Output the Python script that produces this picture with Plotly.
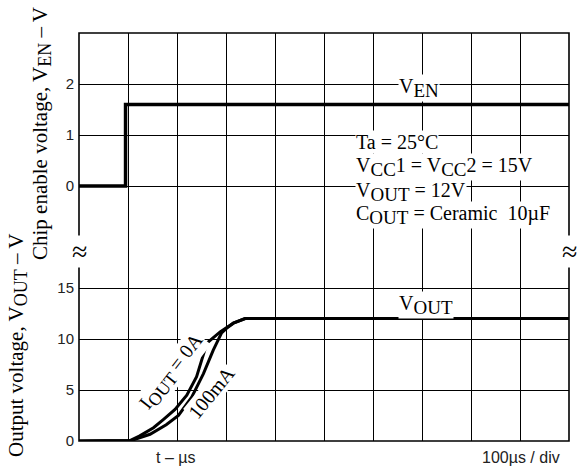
import plotly.graph_objects as go
from plotly.subplots import make_subplots

# ---- data ----
t_en = [0, 95, 95, 1000]
v_en = [0, 0, 1.6, 1.6]

t_out_0a = [0, 104, 124, 152, 172, 196, 220, 240, 261, 288, 315, 339, 1000]
v_out_0a = [0, 0.05, 0.5, 1.3, 2.1, 3.1, 4.5, 6.3, 9.6, 10.7, 11.55, 12.0, 12.0]

t_out_100 = [0, 107, 145, 178, 203, 230, 254, 274, 291, 301, 315, 339, 1000]
v_out_100 = [0, 0.05, 0.66, 1.6, 2.5, 4.3, 6.6, 8.9, 10.6, 11.05, 11.55, 12.0, 12.0]

en_ticks = [-1, 0, 1, 2, 3]
en_ticktext = ["", "0", "1", "2", ""]
out_ticks = [0, 5, 10, 15, 20]
out_ticktext = ["0", "5", "10", "15", ""]

SERIF = "Liberation Serif"
SANS = "Liberation Sans"


def sub(s, size=19):
    return "<sub><span style='font-size:%dpx'>%s</span></sub>" % (size, s)


fig = make_subplots(rows=2, cols=1, shared_xaxes=True, vertical_spacing=0)

fig.add_trace(go.Scatter(x=t_en, y=v_en, mode="lines",
                         line=dict(color="black", width=3.5), showlegend=False), row=1, col=1)
fig.add_trace(go.Scatter(x=t_out_0a, y=v_out_0a, mode="lines",
                         line=dict(color="black", width=3), showlegend=False), row=2, col=1)
fig.add_trace(go.Scatter(x=t_out_100, y=v_out_100, mode="lines",
                         line=dict(color="black", width=3), showlegend=False), row=2, col=1)

grid = dict(showgrid=True, gridcolor="black", gridwidth=1, zeroline=False, showline=False)

fig.update_xaxes(range=[0, 1000], dtick=100, tick0=0, showticklabels=False, ticks="", **grid)
fig.update_yaxes(row=1, col=1, range=[-1, 3], domain=[0.5, 1], tickmode="array",
                 tickvals=en_ticks, ticktext=en_ticktext, ticks="", ticklabelstandoff=4,
                 tickfont=dict(family=SANS, size=15, color="#222"), **grid)
fig.update_yaxes(row=2, col=1, range=[0, 20], domain=[0, 0.5], tickmode="array",
                 tickvals=out_ticks, ticktext=out_ticktext, ticks="", ticklabelstandoff=4,
                 tickfont=dict(family=SANS, size=15, color="#222"), **grid)

fig.add_shape(type="rect", xref="paper", yref="paper", x0=0, x1=1, y0=0, y1=1,
              line=dict(color="black", width=1.6), fillcolor="rgba(0,0,0,0)")

ann = []
def serif(text, x, y, xref, yref, size=20, angle=0, xanchor="center", bg="white"):
    ann.append(dict(text=text, x=x, y=y, xref=xref, yref=yref, showarrow=False,
                    font=dict(family=SERIF, size=size, color="black"), textangle=angle,
                    xanchor=xanchor, yanchor="middle", bgcolor=bg, borderpad=0))

serif("V" + sub("EN"), 694, 1.92, "x", "y")
serif("V" + sub("OUT"), 708, 13.3, "x2", "y2")
serif("Ta = 25°C", 563, 0.86, "x", "y", xanchor="left")
serif("V" + sub("CC") + "1 = V" + sub("CC") + "2 = 15V", 563, 0.37, "x", "y", xanchor="left")
serif("V" + sub("OUT") + " = 12V", 563, -0.12, "x", "y", xanchor="left")
serif("C" + sub("OUT") + " = Ceramic  10µF", 563, -0.57, "x", "y", xanchor="left")
serif("I" + sub("OUT", 18) + " = 0A", 190, 6.8, "x2", "y2", angle=-52)
serif("100mA", 271, 4.8, "x2", "y2", angle=-51)

# axis titles
serif("Chip enable voltage, V" + sub("EN", 18) + " – V", (41 - 79) / 490, (441 - 134) / 408,
      "paper", "paper", size=21, angle=-90, bg="rgba(0,0,0,0)")
serif("Output voltage, V" + sub("OUT", 18) + " – V", (17 - 79) / 490, (441 - 346) / 408,
      "paper", "paper", size=21, angle=-90, bg="rgba(0,0,0,0)")

# break marks
for px in (0, 1):
    ann.append(dict(text="≈", x=px, y=(441 - 251) / 408, xref="paper", yref="paper",
                    showarrow=False, font=dict(family=SERIF, size=28, color="black"),
                    xanchor="center", yanchor="middle", bgcolor="white", borderpad=0))

# x labels
for txt, px in (("t – µs", 175), ("100µs / div", 521)):
    ann.append(dict(text=txt, x=(px - 79) / 490, y=(441 - 457) / 408, xref="paper", yref="paper",
                    showarrow=False, font=dict(family=SANS, size=16, color="#222"),
                    xanchor="center", yanchor="middle"))

fig.update_layout(width=577, height=467, margin=dict(l=79, r=8, t=33, b=26),
                  plot_bgcolor="white", paper_bgcolor="white", annotations=ann,
                  showlegend=False)

fig.write_html("out.html")
